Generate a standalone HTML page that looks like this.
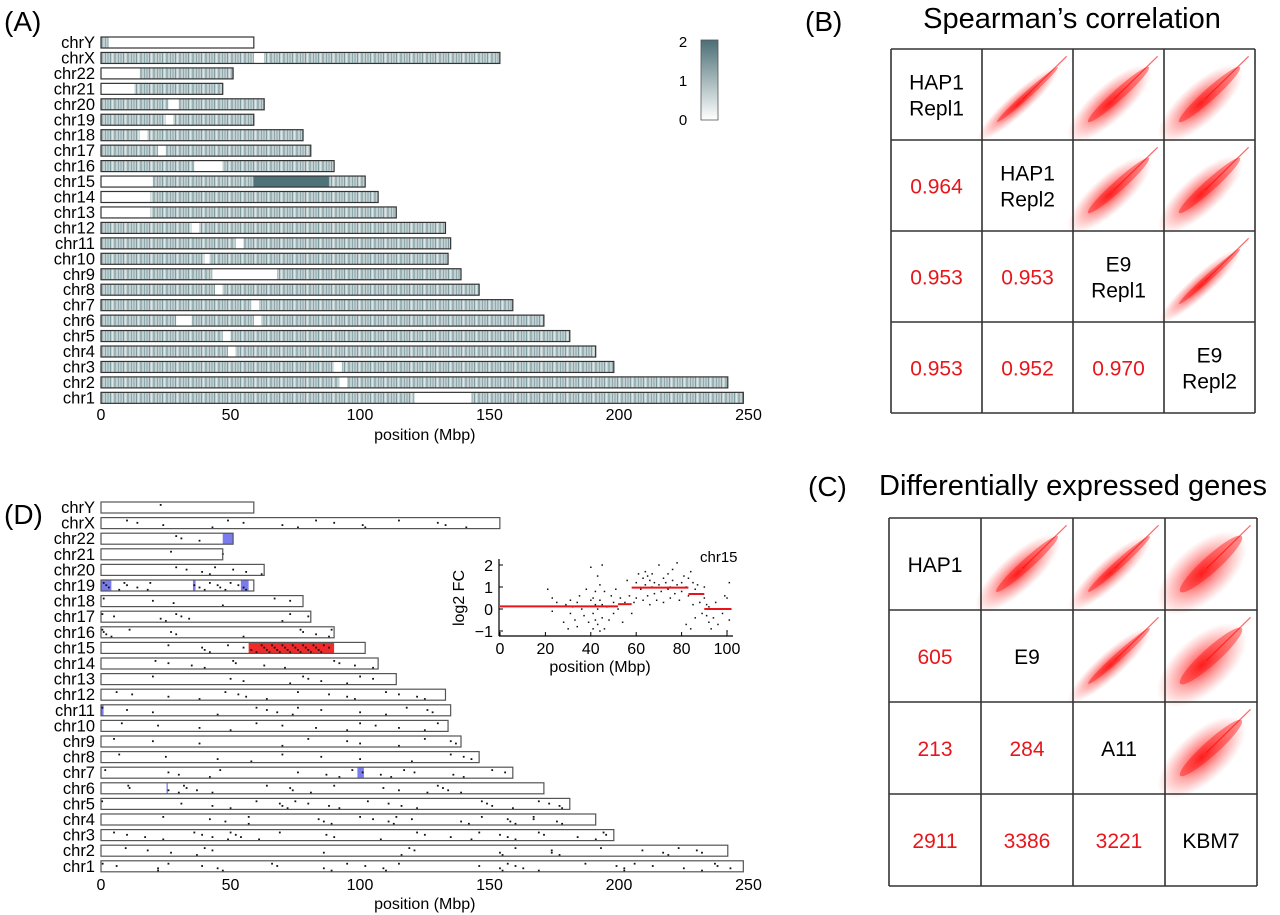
<!DOCTYPE html>
<html><head><meta charset="utf-8"><style>
html,body{margin:0;padding:0;background:#fff;}
svg{display:block;font-family:"Liberation Sans",Arial,sans-serif;}
</style></head><body>
<svg id="fig" width="1280" height="915" viewBox="0 0 1280 915">
<defs>
<pattern id="stripes" width="13" height="12" patternUnits="userSpaceOnUse">
<rect width="13" height="12" fill="#c3d1d3"/>
<rect x="1" width="1" height="12" fill="#8fa8ac"/>
<rect x="3" width="2" height="12" fill="#a9bdc0"/>
<rect x="6" width="1" height="12" fill="#7f9ca0"/>
<rect x="8" width="1" height="12" fill="#dde6e7"/>
<rect x="10" width="2" height="12" fill="#9bb2b5"/>
</pattern>
<linearGradient id="cbar" x1="0" y1="1" x2="0" y2="0"><stop offset="0" stop-color="#fff"/><stop offset="1" stop-color="#4a6f75"/></linearGradient>
<radialGradient id="cloud"><stop offset="0" stop-color="#ff0000" stop-opacity="0.85"/><stop offset="0.5" stop-color="#ff3030" stop-opacity="0.45"/><stop offset="1" stop-color="#ff5050" stop-opacity="0"/></radialGradient>
</defs>
<g id="panelA"></g>
<g id="panelD"></g>
<g id="inset"></g>
<g id="panelB"></g>
<g id="panelC"></g>
<text x="4" y="31" font-size="28">(A)</text>
<text x="805" y="31" font-size="28">(B)</text>
<text x="808" y="496" font-size="28">(C)</text>
<text x="4" y="524" font-size="28">(D)</text>
</svg>
<script>
const NS="http://www.w3.org/2000/svg";
const chromNames=["chrY","chrX","chr22","chr21","chr20","chr19","chr18","chr17","chr16","chr15","chr14","chr13","chr12","chr11","chr10","chr9","chr8","chr7","chr6","chr5","chr4","chr3","chr2","chr1"];
const chromLengths=[59,154,51,47,63,59,78,81,90,102,107,114,133,135,134,139,146,159,171,181,191,198,242,248];
const heatGaps=[[[3,59]],[[59,63]],[[0,15]],[[0,13]],[[26,30]],[[25,28]],[[15,18]],[[22,25]],[[36,47]],[[0,20]],[[0,19]],[[0,19]],[[35,38]],[[52,55]],[[40,42]],[[43,68]],[[44,47]],[[58,61]],[[29,35],[59,62]],[[47,50]],[[49,52]],[[90,93]],[[92,95]],[[121,143]]];
const heatHigh=[[9,59,88]];
const xTicks=[0,50,100,150,200,250];
const cbarTicks=[0,1,2];
const dotPos=[[23],[10,14,24,43,49,55,70,76,83,90,101,102,115,130,133,141],[29,31,38],[27,47],[29,33,39,42,44,51,56,62],[1,2,3,7,9,10,14,18,19,36,38,40,42,45,46,48,50,53,55,56],[1,20,28,47,67,73],[0.5,5,23,25,29,31,34,70,73,80],[0.5,1,2,4,11,27,29,55,77,78,83,88,89],[26,39,40,42,49,55,58,60,62,63,64,65,66,67,68,69,70,71,72,73,74,75,76,77,78,79,80,81,82,83,84,85,86,88],[21,26,35,40,51,52,63,71,90,92,98,105],[20,50,55,73,78,80,85,95,100,105],[6,12,26,38,48,53,56,64,76,88,95,98,110,115,122,125],[0.5,10,20,45,60,64,68,74,76,85,100,110,118,126,128],[8,22,38,50,60,70,83,95,100,106,115,125,130],[5,20,38,70,80,95,100,115,125,135,137],[7,25,45,58,70,85,100,120,135,140,143],[1.6,26,30,42,46,76,87,92,97,101,108,112,117,121,136,140,151,156],[10.5,11,26,30,32,33,37,43,64,73,74,81,90,109,115,126,130,132,134,139],[0.4,31,43,50,60,69,70,72,75,80,88,92,103,111,116,122,147,149,151,159,169,173,177,178],[24,42,48,57,57,84,86,89,100,105,111,113,114,120,139,142,147,157,158,160,167,167,176,178],[5,10,17,24,36,39,43,49,50,52,54,61,69,87,90,108,122,125,135,143,146,154,157,160,169,171,184,191,194,195],[9.5,18,27,37,40,43,86,116,119,121,154,155,160,174,174,177,193,209,217,219,223,230,232],[0.6,6,22,22,26,39,45,47,66,68,86,89,95,102,109,110,115,146,154,155,157,160,163,169,187,199,202,202,206,213,225,232,237,238,243]];
const blueRegions=[[2,47,51],[5,0,4],[5,35.5,36.5],[5,54,57],[13,0,1],[17,99,101.5],[18,25.3,25.8]];
const redRegions=[[9,57,90]];
const insetX=[21,23,23,25,28,29,30,31,31,32,33,34,34,35,36,37,38,39,40,40,41,41,41,42,42,42,43,43,43,44,44,44,45,45,45,46,46,47,48,49,50,50,51,52,53,54,55,56,57,58,59,60,60,61,62,63,63,64,64,65,65,66,66,67,67,68,68,69,70,70,71,72,72,73,74,74,75,75,76,76,77,78,78,79,80,80,81,82,82,83,83,84,84,85,85,86,86,87,88,89,90,90,91,91,92,92,93,94,95,96,97,98,99,100,100,101,101];
const insetY=[0.9,0.5,-0.1,0.3,-0.6,0.2,-0.9,0.4,-0.2,0.1,-0.5,0.3,-0.8,0.6,0.0,-0.3,0.9,-0.6,0.4,1.9,-0.2,0.5,-0.9,0.8,0.2,-0.5,1.5,0.0,-0.7,0.4,-1.0,1.1,2.0,0.2,-0.4,0.8,-0.9,0.1,-0.5,0.6,0.3,-0.2,0.9,0.0,0.5,-0.6,0.3,1.3,0.6,-0.2,0.3,1.2,0.5,1.6,0.9,1.4,0.4,1.7,1.1,0.6,1.5,1.3,0.2,1.0,1.6,0.7,1.2,0.4,2.0,1.1,0.8,1.4,0.3,1.2,1.6,0.9,1.0,0.5,1.3,1.8,0.7,1.1,2.1,0.4,1.2,0.8,1.5,1.0,-0.7,1.4,0.6,1.7,-0.9,1.2,0.2,0.9,-0.4,1.1,0.3,-0.2,1.0,0.5,-0.3,0.2,-0.6,0.1,-0.9,-0.4,0.3,-0.7,0.0,-0.2,0.6,-1.0,0.5,1.2,-0.5];
const segStart=[0,52,58,83,90];
const segEnd=[52,58,83,90,102];
const segVal=[0.12,0.22,0.97,0.68,0.0];
const insetXTicks=[0,20,40,60,80,100];
const insetYTicks=[-1,0,1,2];
const bLabels=[["HAP1","Repl1"],["HAP1","Repl2"],["E9","Repl1"],["E9","Repl2"]];
const bValues=[["0.964"],["0.953","0.953"],["0.953","0.952","0.970"]];
const bSpread=[[0.12,0.20,0.22],[0.20,0.21],[0.12]];
const cLabels=[["HAP1"],["E9"],["A11"],["KBM7"]];
const cValues=[["605"],["213","284"],["2911","3386","3221"]];
const cSpread=[[0.20,0.15,0.30],[0.14,0.30],[0.27]];

function el(tag,attrs,parent){const e=document.createElementNS(NS,tag);for(const k in attrs)e.setAttribute(k,attrs[k]);parent.appendChild(e);return e;}
function txt(parent,x,y,s,size,anchor,fill){const t=el("text",{x:x,y:y,"font-size":size,"text-anchor":anchor||"start",fill:fill||"#000"},parent);t.textContent=s;return t;}

const xA=v=>101+v*2.59;
const rowA=i=>37+i*15.45;
const rowD=i=>502+i*15.6;

// Panel A
const pA=document.getElementById("panelA");
chromNames.forEach((n,i)=>{
  const y=rowA(i);
  const lab=txt(pA,95,y+11,n,16.5,"end");
  
  
  const g=el("g",{},pA);
  
  
  el("rect",{x:xA(0),y:y,width:xA(chromLengths[i])-xA(0),height:11,fill:"url(#stripes)"},g);
  heatGaps[i].forEach(gp=>{const e2=Math.min(gp[1],chromLengths[i]);el("rect",{x:xA(gp[0]),y:y,width:xA(e2)-xA(gp[0]),height:11,fill:"#fff"},g);});
  heatHigh.forEach(h=>{if(h[0]===i)el("rect",{x:xA(h[1]),y:y,width:xA(h[2])-xA(h[1]),height:11,fill:"#4d7378"},g);});
  el("rect",{x:xA(0),y:y,width:xA(chromLengths[i])-xA(0),height:11,fill:"none",stroke:"#333","stroke-width":1.2},g);
});
xTicks.forEach(t=>{const l=txt(pA,xA(t),420,String(t),16,"middle");});
{const l=txt(pA,xA(125),440,"position (Mbp)",16,"middle");}
{const cb=el("rect",{x:701,y:40,width:17,height:80,fill:"url(#cbar)",stroke:"#555","stroke-width":0.8},pA);
 
 cbarTicks.forEach(t=>{const l=txt(pA,683,125-t*39,String(t),15,"middle");});}

// Panel D
const pD=document.getElementById("panelD");
chromNames.forEach((n,i)=>{
  const y=rowD(i);
  const lab=txt(pD,95,y+11,n,16.5,"end");
  
  
  const g=el("g",{},pD);
  
  
  el("rect",{x:xA(0),y:y,width:xA(chromLengths[i])-xA(0),height:11,fill:"#fff"},g);
  redRegions.forEach(r=>{if(r[0]===i){const rr=el("rect",{x:xA(r[1]),y:y,width:xA(r[2])-xA(r[1]),height:11,fill:"#ee2a2a"},g);}});
  blueRegions.forEach(r=>{if(r[0]===i){const rr=el("rect",{x:xA(r[1]),y:y,width:Math.max(1,xA(r[2])-xA(r[1])),height:11,fill:"#7b7bf0"},g);}});
  dotPos[i].forEach((p,k)=>{const d=el("rect",{x:xA(p)-0.8,y:y+2+(k%4)*2.3,width:1.8,height:1.8,fill:"#111"},g);});
  el("rect",{x:xA(0),y:y,width:xA(chromLengths[i])-xA(0),height:11,fill:"none",stroke:"#555","stroke-width":1.2},g);
});
xTicks.forEach(t=>{const l=txt(pD,xA(t),890,String(t),16,"middle");});
{const l=txt(pD,xA(125),909,"position (Mbp)",16,"middle");}

// Inset
const pI=document.getElementById("inset");
const xI=v=>500+v*2.27, yI=v=>609-v*22;
insetX.forEach((x,k)=>{const d=el("rect",{x:xI(x)-0.7,y:yI(insetY[k])-0.7,width:1.5,height:1.5,fill:"#111"},pI);});
segStart.forEach((s,k)=>{const l=el("line",{x1:xI(s),x2:xI(segEnd[k]),y1:yI(segVal[k]),y2:yI(segVal[k]),stroke:"#e8141a","stroke-width":2},pI);});
el("line",{x1:499,x2:499,y1:559,y2:636,stroke:"#000","stroke-width":1.2},pI);
el("line",{x1:499,x2:733,y1:636,y2:636,stroke:"#000","stroke-width":1.2},pI);
insetXTicks.forEach(t=>{el("line",{x1:xI(t),x2:xI(t),y1:636,y2:632,stroke:"#000"},pI);const l=txt(pI,xI(t),654,String(t),16,"middle");});
insetYTicks.forEach(t=>{el("line",{x1:499,x2:503,y1:yI(t),y2:yI(t),stroke:"#000"},pI);const l=txt(pI,493,yI(t)+6,t<0?"\u2212"+Math.abs(t):String(t),16,"end");});
{const l=txt(pI,600,672,"position (Mbp)",16,"middle");}
{const l=txt(pI,0,0,"log2 FC",16,"middle");l.setAttribute("transform","translate(464,598) rotate(-90)");}
{const l=txt(pI,700,562,"chr15",15,"start");}

// Matrices
function matrix(id,x0,y0,cs,title,tx,ty,labels,values,spread){
  const p=document.getElementById(id);
  const tt=txt(p,tx,ty,title,29,"middle");
  
  for(let r=0;r<4;r++)for(let c=0;c<4;c++){
    const cx=x0+c*cs, cy=y0+r*cs;
    if(c>r){
      const s=spread[r][c-r-1];
      const g=el("g",{},p);
      
      const L=cs*0.6, W=cs*s;
      el("ellipse",{cx:cx+cs*0.4,cy:cy+cs*0.6,rx:L,ry:W,fill:"url(#cloud)",transform:`rotate(-42 ${cx+cs*0.4} ${cy+cs*0.6})`},g);
      el("ellipse",{cx:cx+cs*0.5,cy:cy+cs*0.5,rx:cs*0.45,ry:W*0.3,fill:"#ff1010","fill-opacity":0.45,transform:`rotate(-42 ${cx+cs*0.5} ${cy+cs*0.5})`},g);
      el("line",{x1:cx+cs*0.45,y1:cy+cs*0.55,x2:cx+cs*0.93,y2:cy+cs*0.08,stroke:"#f00","stroke-width":1.2,"stroke-opacity":0.6},g);
    } else if(c===r){
      const lines=labels[r];
      lines.forEach((s,k)=>{const t=txt(p,cx+cs/2,cy+cs/2+8+(k-(lines.length-1)/2)*26,s,21,"middle");});
    } else {
      const t=txt(p,cx+cs/2,cy+cs/2+8,values[r-1][c],21,"middle","#e8161b");
      
    }
  }
  for(let k=0;k<=4;k++){
    el("line",{x1:x0+k*cs,x2:x0+k*cs,y1:y0,y2:y0+4*cs,stroke:"#333","stroke-width":1.6},p);
    el("line",{x1:x0,x2:x0+4*cs,y1:y0+k*cs,y2:y0+k*cs,stroke:"#333","stroke-width":1.6},p);
  }
}
matrix("panelB",891,49,91,"Spearman\u2019s correlation",1072,28,bLabels,bValues,bSpread);
matrix("panelC",889,518,92,"Differentially expressed genes",1073,495,cLabels,cValues,cSpread);
</script>
</body></html>
